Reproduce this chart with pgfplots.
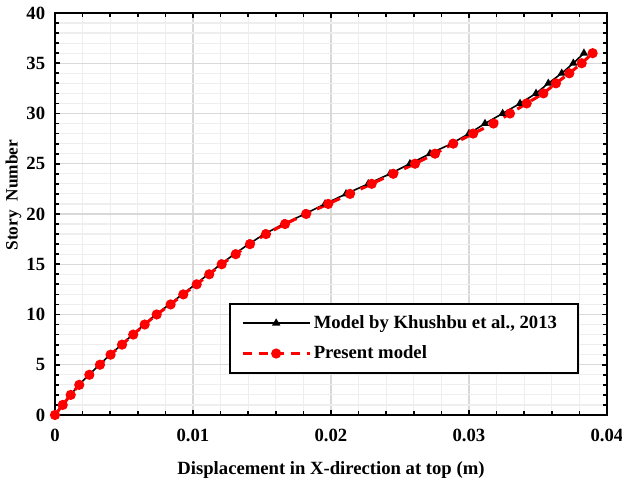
\documentclass[border=0pt]{standalone}
\usepackage{pgfplots}
\pgfplotsset{compat=1.18}
\usepackage{fontspec}
\setmainfont{Liberation Serif}
\definecolor{majgrid}{RGB}{217,217,217}
\definecolor{mingrid}{RGB}{238,238,238}
\begin{document}
\fontsize{14}{16}\selectfont
\begin{tikzpicture}
\begin{axis}[
  scale only axis,
  width=414pt, height=301.5pt,
  xmin=0, xmax=0.04, ymin=0, ymax=40,
  xtick={0,0.01,0.02,0.03,0.04},
  xticklabels={0,0.01,0.02,0.03,0.04},
  ytick={0,5,...,40},
  minor x tick num=4,
  minor y tick num=4,
  grid=both,
  major grid style={majgrid, line width=0.9pt},
  minor grid style={mingrid, line width=0.9pt},
  axis line style={black, line width=2.2pt},
  tick align=inside,
  major tick length=3.5pt,
  minor tick length=3pt,
  tick style={black, line width=1.3pt},
  /pgf/number format/assume math mode=true,
  ticklabel style={font=\fontsize{14}{16}\selectfont\bfseries},
  xticklabel style={yshift=-6pt},
  yticklabel style={xshift=-2.5pt},
  label style={font=\fontsize{14}{16}\selectfont\bfseries},
  xlabel={Displacement in X-direction at top (m)},
  ylabel={Story\ \ Number},
  xlabel style={at={(rel axis cs:0.5,-0.1368)}, anchor=center},
  ylabel style={at={(rel axis cs:-0.0752,0.547)}, anchor=center, font=\fontsize{13}{15}\selectfont\bfseries},
  scaled x ticks=false,
  legend cell align=left,
  legend style={at={(0.315,0.279)}, anchor=north west, draw=black, line width=1.6pt,
    font=\fontsize{14}{16}\selectfont\bfseries, inner xsep=8.5pt, inner ysep=6.5pt, row sep=7pt},
  legend image code/.code={\draw[mark repeat=2,mark phase=2] plot coordinates {(0cm,0cm) (0.88cm,0cm) (1.76cm,0cm)};},
]
\addplot[black, line width=1.2pt, mark=triangle*, mark size=2.4pt, mark options={solid}] table {
x y
0 0
0.00055 1
0.00112 2
0.00174 3
0.00246 4
0.00322 5
0.00400 6
0.00482 7
0.00563 8
0.00646 9
0.00732 10
0.00830 11
0.00922 12
0.01018 13
0.01110 14
0.01200 15
0.01300 16
0.01403 17
0.01517 18
0.01655 19
0.01810 20
0.01957 21
0.02109 22
0.02270 23
0.02428 24
0.02572 25
0.02717 26
0.02874 27
0.03000 28
0.03116 29
0.03244 30
0.03370 31
0.03486 32
0.03575 33
0.03672 34
0.03756 35
0.03833 36
};
\addlegendentry{Model by Khushbu et al., 2013\rule{5pt}{0pt}}
\addplot[red, line width=2.3pt, dash pattern=on 7pt off 5pt, mark=*, mark size=2.6pt, mark options={solid}] table {
x y
0 0
0.00056 1
0.00114 2
0.00176 3
0.00249 4
0.00326 5
0.00403 6
0.00486 7
0.00567 8
0.00650 9
0.00737 10
0.00838 11
0.00930 12
0.01027 13
0.01118 14
0.01208 15
0.01310 16
0.01413 17
0.01529 18
0.01667 19
0.01820 20
0.01980 21
0.02138 22
0.02295 23
0.02451 24
0.02609 25
0.02754 26
0.02886 27
0.03030 28
0.03177 29
0.03297 30
0.03418 31
0.03539 32
0.03630 33
0.03727 34
0.03817 35
0.03896 36
};
\addlegendentry{Present model}
\coordinate (bl) at (rel axis cs:-0.0996,-0.1592);
\coordinate (tr) at (rel axis cs:1.0272,1.0323);
\end{axis}
\pgfresetboundingbox
\path (bl) rectangle (tr);
\end{tikzpicture}
\end{document}
